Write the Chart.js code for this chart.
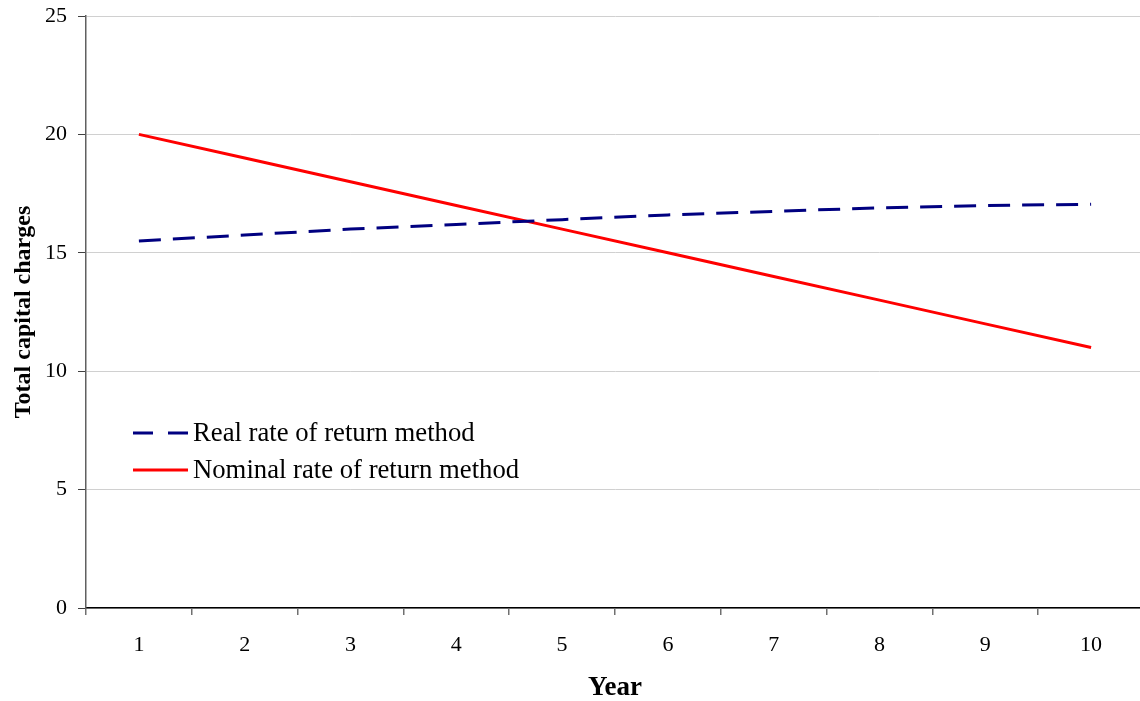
<!DOCTYPE html>
<html>
<head>
<meta charset="utf-8">
<script src="https://cdn.jsdelivr.net/npm/chart.js@4"></script>
<style>
html,body{margin:0;padding:0;background:#fff;overflow:hidden;}
#wrap{width:1140px;height:701px;position:relative;overflow:hidden;}
</style>
</head>
<body>
<div id="wrap"><canvas id="c" width="1144" height="701"></canvas></div>
<script>
const years = ['1','2','3','4','5','6','7','8','9','10'];
const realRate = [15.5, 15.75, 16.0, 16.2, 16.4, 16.6, 16.75, 16.9, 17.0, 17.05];
const nominalRate = [20, 19, 18, 17, 16, 15, 14, 13, 12, 11];
const seriesNames = ['Real rate of return method', 'Nominal rate of return method'];
const yTitle = 'Total capital charges';
const xTitle = 'Year';

const FONT = "'Liberation Serif', 'Times New Roman', serif";

const legendPlugin = {
  id: 'insideLegend',
  afterDraw(chart) {
    const ctx = chart.ctx;
    const rows = [
      {y: 433, ds: chart.data.datasets[0]},
      {y: 470, ds: chart.data.datasets[1]}
    ];
    ctx.save();
    rows.forEach(r => {
      ctx.beginPath();
      ctx.strokeStyle = r.ds.borderColor;
      ctx.lineWidth = r.ds.borderWidth;
      ctx.setLineDash(r.ds.borderDash ? [20, 15] : []);
      ctx.moveTo(133, r.y);
      ctx.lineTo(188, r.y);
      ctx.stroke();
      ctx.setLineDash([]);
      ctx.fillStyle = '#000';
      ctx.font = '26.7px ' + FONT;
      ctx.textBaseline = 'middle';
      ctx.textAlign = 'left';
      ctx.fillText(r.ds.label, 193, r.y + 1);
    });
    ctx.restore();
  }
};

new Chart(document.getElementById('c'), {
  type: 'line',
  data: {
    labels: years,
    datasets: [
      {
        label: seriesNames[0],
        data: realRate,
        borderColor: '#000080',
        borderWidth: 3,
        borderDash: [22, 12],
        pointRadius: 0,
        fill: false,
        tension: 0
      },
      {
        label: seriesNames[1],
        data: nominalRate,
        borderColor: '#ff0000',
        borderWidth: 3,
        pointRadius: 0,
        fill: false,
        tension: 0
      }
    ]
  },
  options: {
    responsive: false,
    animation: false,
    devicePixelRatio: 1,
    layout: {padding: {top: 16, right: 0, left: 0, bottom: 0}},
    plugins: {
      legend: {display: false},
      tooltip: {enabled: false}
    },
    scales: {
      x: {
        offset: true,
        grid: {
          offset: true,
          drawOnChartArea: false,
          drawTicks: true,
          tickLength: 7,
          tickColor: '#707070',
          lineWidth: 1.5
        },
        border: {color: '#000', width: 1.5},
        ticks: {
          color: '#000',
          font: {family: FONT, size: 22},
          padding: 17,
          maxRotation: 0
        },
        title: {
          display: true,
          text: xTitle,
          color: '#000',
          font: {family: FONT, size: 27, weight: 'bold'},
          padding: {top: 0, bottom: -3}
        },
        afterFit(s) { s.height = 93; s.paddingLeft = 0; s.paddingRight = 0; }
      },
      y: {
        min: 0,
        max: 25,
        ticks: {
          stepSize: 5,
          color: '#000',
          font: {family: FONT, size: 22},
          padding: 11
        },
        grid: {
          color: '#d0d0d0',
          tickColor: '#404040',
          tickLength: 8,
          lineWidth: 1
        },
        border: {color: '#606060', width: 1.5},
        title: {
          display: true,
          text: yTitle,
          color: '#000',
          font: {family: FONT, size: 24, weight: 'bold'},
          padding: {top: 9, bottom: 0}
        },
        afterFit(s) { s.width = 86; s.paddingTop = 0; s.paddingBottom = 0; }
      }
    }
  },
  plugins: [legendPlugin]
});
</script>
</body>
</html>
